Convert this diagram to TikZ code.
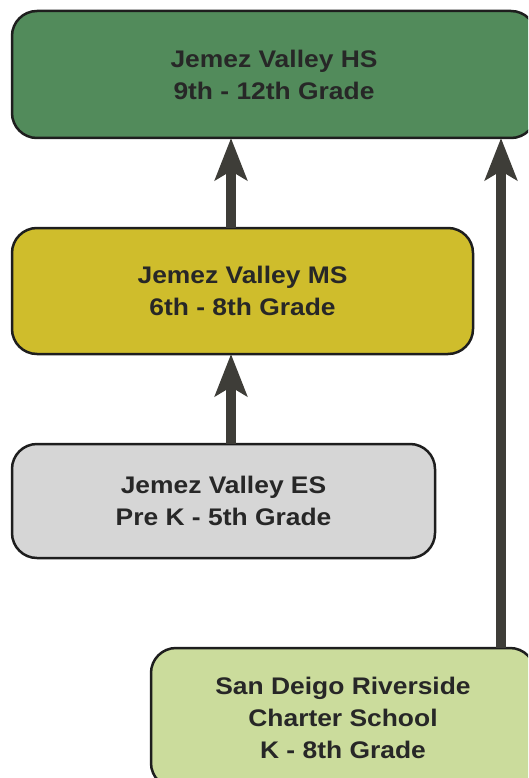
\documentclass[tikz,border=0pt]{standalone}
\usepackage{fontspec}
\setmainfont{Liberation Sans}[FakeStretch=1.1]
\usetikzlibrary{arrows.meta}
\definecolor{hsgreen}{HTML}{528B5B}
\definecolor{msyellow}{HTML}{CFBD2C}
\definecolor{esgray}{HTML}{D6D6D6}
\definecolor{chgreen}{HTML}{CBDC9C}
\definecolor{arrgray}{HTML}{3E3D38}
\definecolor{bordercol}{HTML}{1E1E1E}
\definecolor{txtcol}{HTML}{272727}
\tikzset{
  box/.style={draw=bordercol, line width=2.5pt, rounded corners=25pt, align=center,
    inner sep=0pt, outer sep=0pt, text=txtcol,
    font=\fontsize{24}{32}\selectfont\bfseries},
  arr/.style={draw=arrgray, line width=9.5pt,
    -{Stealth[length=42pt,width=32pt,inset=9pt]}}
}
\begin{document}
\begin{tikzpicture}
\useasboundingbox (0,0) rectangle (528pt,-778pt);
\clip (0,0) rectangle (528pt,-778pt);
\node[box, fill=hsgreen, minimum width=524pt, minimum height=127pt] (hs) at (274pt,-74.5pt)
  {Jemez Valley HS\\9th - 12th Grade};
\node[box, fill=msyellow, minimum width=461pt, minimum height=126pt] (ms) at (242.5pt,-291pt)
  {Jemez Valley MS\\6th - 8th Grade};
\node[box, fill=esgray, minimum width=423pt, minimum height=114pt] (es) at (223.5pt,-501pt)
  {Jemez Valley ES\\Pre K - 5th Grade};
\node[box, fill=chgreen, minimum width=384pt, minimum height=140pt] (ch) at (343pt,-718pt)
  {San Deigo Riverside\\Charter School\\K - 8th Grade};
\coordinate (c1) at (231pt,0pt);
\coordinate (c2) at (501pt,0pt);
\draw[arr] (ms.north -| c1) -- (hs.south -| c1);
\draw[arr] (es.north -| c1) -- (ms.south -| c1);
\draw[arr] (ch.north -| c2) -- (hs.south -| c2);
\end{tikzpicture}
\end{document}
